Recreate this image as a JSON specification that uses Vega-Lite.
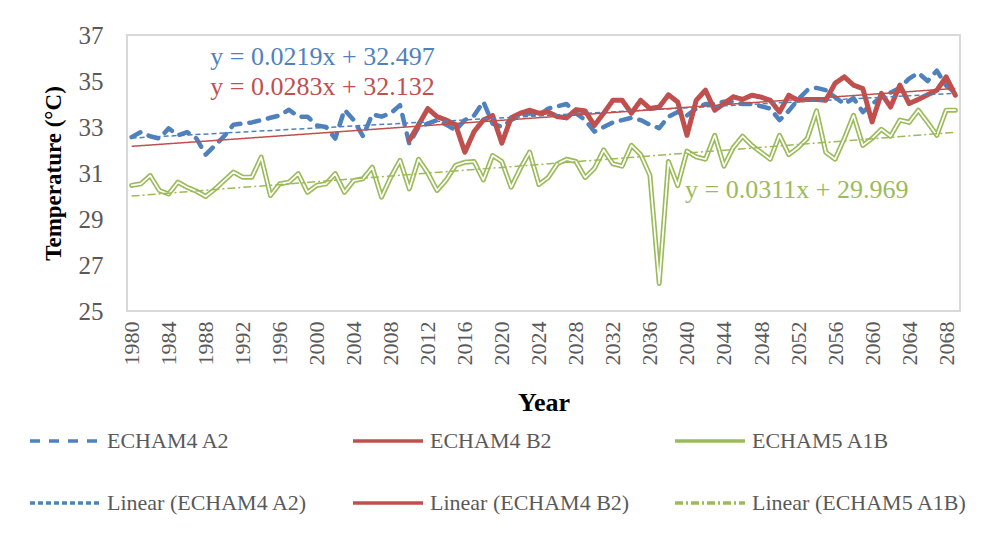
{
  "$schema": "https://vega.github.io/schema/vega-lite/v6.json",
  "width": 833,
  "height": 276,
  "autosize": "none",
  "padding": {"left": 127, "top": 35, "right": 27, "bottom": 241},
  "background": "white",
  "config": {
    "view": {"stroke": "#d9d9d9", "strokeWidth": 2},
    "font": "Liberation Serif"
  },
  "datasets": {
    "temps": [
      {"Year":1980,"ECHAM4 A2":32.56,"ECHAM4 B2":null,"ECHAM5 A1B":30.46},
      {"Year":1981,"ECHAM4 A2":32.78,"ECHAM4 B2":null,"ECHAM5 A1B":30.53},
      {"Year":1982,"ECHAM4 A2":32.6,"ECHAM4 B2":null,"ECHAM5 A1B":30.89},
      {"Year":1983,"ECHAM4 A2":32.5,"ECHAM4 B2":null,"ECHAM5 A1B":30.24},
      {"Year":1984,"ECHAM4 A2":32.94,"ECHAM4 B2":null,"ECHAM5 A1B":30.09},
      {"Year":1985,"ECHAM4 A2":32.64,"ECHAM4 B2":null,"ECHAM5 A1B":30.6},
      {"Year":1986,"ECHAM4 A2":32.78,"ECHAM4 B2":null,"ECHAM5 A1B":30.38},
      {"Year":1987,"ECHAM4 A2":32.5,"ECHAM4 B2":null,"ECHAM5 A1B":30.21},
      {"Year":1988,"ECHAM4 A2":31.8,"ECHAM4 B2":null,"ECHAM5 A1B":29.98},
      {"Year":1989,"ECHAM4 A2":32.2,"ECHAM4 B2":null,"ECHAM5 A1B":30.3},
      {"Year":1990,"ECHAM4 A2":32.6,"ECHAM4 B2":null,"ECHAM5 A1B":30.67},
      {"Year":1991,"ECHAM4 A2":33.1,"ECHAM4 B2":null,"ECHAM5 A1B":31.04},
      {"Year":1992,"ECHAM4 A2":33.15,"ECHAM4 B2":null,"ECHAM5 A1B":30.82},
      {"Year":1993,"ECHAM4 A2":33.2,"ECHAM4 B2":null,"ECHAM5 A1B":30.82},
      {"Year":1994,"ECHAM4 A2":33.3,"ECHAM4 B2":null,"ECHAM5 A1B":31.69},
      {"Year":1995,"ECHAM4 A2":33.4,"ECHAM4 B2":null,"ECHAM5 A1B":30.02},
      {"Year":1996,"ECHAM4 A2":33.5,"ECHAM4 B2":null,"ECHAM5 A1B":30.53},
      {"Year":1997,"ECHAM4 A2":33.75,"ECHAM4 B2":null,"ECHAM5 A1B":30.6},
      {"Year":1998,"ECHAM4 A2":33.45,"ECHAM4 B2":null,"ECHAM5 A1B":30.97},
      {"Year":1999,"ECHAM4 A2":33.45,"ECHAM4 B2":null,"ECHAM5 A1B":30.16},
      {"Year":2000,"ECHAM4 A2":33.07,"ECHAM4 B2":null,"ECHAM5 A1B":30.46},
      {"Year":2001,"ECHAM4 A2":33.0,"ECHAM4 B2":null,"ECHAM5 A1B":30.53},
      {"Year":2002,"ECHAM4 A2":32.5,"ECHAM4 B2":null,"ECHAM5 A1B":30.97},
      {"Year":2003,"ECHAM4 A2":33.75,"ECHAM4 B2":null,"ECHAM5 A1B":30.16},
      {"Year":2004,"ECHAM4 A2":33.3,"ECHAM4 B2":null,"ECHAM5 A1B":30.67},
      {"Year":2005,"ECHAM4 A2":32.6,"ECHAM4 B2":null,"ECHAM5 A1B":30.75},
      {"Year":2006,"ECHAM4 A2":33.55,"ECHAM4 B2":null,"ECHAM5 A1B":31.25},
      {"Year":2007,"ECHAM4 A2":33.45,"ECHAM4 B2":null,"ECHAM5 A1B":29.95},
      {"Year":2008,"ECHAM4 A2":33.6,"ECHAM4 B2":null,"ECHAM5 A1B":30.82},
      {"Year":2009,"ECHAM4 A2":33.95,"ECHAM4 B2":null,"ECHAM5 A1B":31.55},
      {"Year":2010,"ECHAM4 A2":32.27,"ECHAM4 B2":32.42,"ECHAM5 A1B":30.31},
      {"Year":2011,"ECHAM4 A2":33.0,"ECHAM4 B2":33.1,"ECHAM5 A1B":31.6},
      {"Year":2012,"ECHAM4 A2":33.15,"ECHAM4 B2":33.8,"ECHAM5 A1B":31.0},
      {"Year":2013,"ECHAM4 A2":33.3,"ECHAM4 B2":33.45,"ECHAM5 A1B":30.24},
      {"Year":2014,"ECHAM4 A2":33.1,"ECHAM4 B2":33.3,"ECHAM5 A1B":30.7},
      {"Year":2015,"ECHAM4 A2":32.85,"ECHAM4 B2":33.1,"ECHAM5 A1B":31.33},
      {"Year":2016,"ECHAM4 A2":33.3,"ECHAM4 B2":31.9,"ECHAM5 A1B":31.47},
      {"Year":2017,"ECHAM4 A2":33.5,"ECHAM4 B2":32.8,"ECHAM5 A1B":31.5},
      {"Year":2018,"ECHAM4 A2":34.1,"ECHAM4 B2":33.3,"ECHAM5 A1B":30.7},
      {"Year":2019,"ECHAM4 A2":33.15,"ECHAM4 B2":33.5,"ECHAM5 A1B":31.76},
      {"Year":2020,"ECHAM4 A2":33.0,"ECHAM4 B2":32.3,"ECHAM5 A1B":31.5},
      {"Year":2021,"ECHAM4 A2":33.3,"ECHAM4 B2":33.4,"ECHAM5 A1B":30.38},
      {"Year":2022,"ECHAM4 A2":33.5,"ECHAM4 B2":33.6,"ECHAM5 A1B":31.2},
      {"Year":2023,"ECHAM4 A2":33.6,"ECHAM4 B2":33.73,"ECHAM5 A1B":31.91},
      {"Year":2024,"ECHAM4 A2":33.5,"ECHAM4 B2":33.6,"ECHAM5 A1B":30.5},
      {"Year":2025,"ECHAM4 A2":33.8,"ECHAM4 B2":33.65,"ECHAM5 A1B":30.8},
      {"Year":2026,"ECHAM4 A2":33.9,"ECHAM4 B2":33.45,"ECHAM5 A1B":31.4},
      {"Year":2027,"ECHAM4 A2":34.0,"ECHAM4 B2":33.4,"ECHAM5 A1B":31.6},
      {"Year":2028,"ECHAM4 A2":33.6,"ECHAM4 B2":33.75,"ECHAM5 A1B":31.5},
      {"Year":2029,"ECHAM4 A2":33.3,"ECHAM4 B2":33.7,"ECHAM5 A1B":30.8},
      {"Year":2030,"ECHAM4 A2":32.8,"ECHAM4 B2":33.07,"ECHAM5 A1B":31.2},
      {"Year":2031,"ECHAM4 A2":33.0,"ECHAM4 B2":33.6,"ECHAM5 A1B":32.0},
      {"Year":2032,"ECHAM4 A2":33.2,"ECHAM4 B2":34.16,"ECHAM5 A1B":31.4},
      {"Year":2033,"ECHAM4 A2":33.3,"ECHAM4 B2":34.16,"ECHAM5 A1B":31.3},
      {"Year":2034,"ECHAM4 A2":33.4,"ECHAM4 B2":33.6,"ECHAM5 A1B":32.2},
      {"Year":2035,"ECHAM4 A2":33.3,"ECHAM4 B2":34.16,"ECHAM5 A1B":31.8},
      {"Year":2036,"ECHAM4 A2":33.1,"ECHAM4 B2":33.8,"ECHAM5 A1B":30.9},
      {"Year":2037,"ECHAM4 A2":32.95,"ECHAM4 B2":33.87,"ECHAM5 A1B":26.2},
      {"Year":2038,"ECHAM4 A2":33.45,"ECHAM4 B2":34.4,"ECHAM5 A1B":31.5},
      {"Year":2039,"ECHAM4 A2":33.65,"ECHAM4 B2":34.09,"ECHAM5 A1B":30.45},
      {"Year":2040,"ECHAM4 A2":33.5,"ECHAM4 B2":32.64,"ECHAM5 A1B":31.95},
      {"Year":2041,"ECHAM4 A2":33.8,"ECHAM4 B2":34.16,"ECHAM5 A1B":31.7},
      {"Year":2042,"ECHAM4 A2":34.0,"ECHAM4 B2":34.6,"ECHAM5 A1B":31.6},
      {"Year":2043,"ECHAM4 A2":34.0,"ECHAM4 B2":33.73,"ECHAM5 A1B":32.64},
      {"Year":2044,"ECHAM4 A2":34.1,"ECHAM4 B2":34.02,"ECHAM5 A1B":31.3},
      {"Year":2045,"ECHAM4 A2":34.1,"ECHAM4 B2":34.31,"ECHAM5 A1B":32.1},
      {"Year":2046,"ECHAM4 A2":34.0,"ECHAM4 B2":34.2,"ECHAM5 A1B":32.6},
      {"Year":2047,"ECHAM4 A2":34.0,"ECHAM4 B2":34.38,"ECHAM5 A1B":32.2},
      {"Year":2048,"ECHAM4 A2":33.9,"ECHAM4 B2":34.3,"ECHAM5 A1B":31.9},
      {"Year":2049,"ECHAM4 A2":33.8,"ECHAM4 B2":34.16,"ECHAM5 A1B":31.6},
      {"Year":2050,"ECHAM4 A2":33.3,"ECHAM4 B2":33.65,"ECHAM5 A1B":32.64},
      {"Year":2051,"ECHAM4 A2":33.7,"ECHAM4 B2":34.38,"ECHAM5 A1B":31.8},
      {"Year":2052,"ECHAM4 A2":34.2,"ECHAM4 B2":34.16,"ECHAM5 A1B":32.1},
      {"Year":2053,"ECHAM4 A2":34.6,"ECHAM4 B2":34.2,"ECHAM5 A1B":32.5},
      {"Year":2054,"ECHAM4 A2":34.7,"ECHAM4 B2":34.2,"ECHAM5 A1B":33.7},
      {"Year":2055,"ECHAM4 A2":34.6,"ECHAM4 B2":34.16,"ECHAM5 A1B":31.9},
      {"Year":2056,"ECHAM4 A2":34.3,"ECHAM4 B2":34.9,"ECHAM5 A1B":31.6},
      {"Year":2057,"ECHAM4 A2":34.0,"ECHAM4 B2":35.18,"ECHAM5 A1B":32.5},
      {"Year":2058,"ECHAM4 A2":34.25,"ECHAM4 B2":34.82,"ECHAM5 A1B":33.51},
      {"Year":2059,"ECHAM4 A2":33.65,"ECHAM4 B2":34.67,"ECHAM5 A1B":32.2},
      {"Year":2060,"ECHAM4 A2":34.0,"ECHAM4 B2":33.22,"ECHAM5 A1B":32.5},
      {"Year":2061,"ECHAM4 A2":34.3,"ECHAM4 B2":34.46,"ECHAM5 A1B":32.9},
      {"Year":2062,"ECHAM4 A2":34.5,"ECHAM4 B2":33.87,"ECHAM5 A1B":32.6},
      {"Year":2063,"ECHAM4 A2":34.7,"ECHAM4 B2":34.82,"ECHAM5 A1B":33.3},
      {"Year":2064,"ECHAM4 A2":35.1,"ECHAM4 B2":34.02,"ECHAM5 A1B":33.2},
      {"Year":2065,"ECHAM4 A2":35.35,"ECHAM4 B2":34.2,"ECHAM5 A1B":33.73},
      {"Year":2066,"ECHAM4 A2":35.0,"ECHAM4 B2":34.4,"ECHAM5 A1B":33.2},
      {"Year":2067,"ECHAM4 A2":35.45,"ECHAM4 B2":34.6,"ECHAM5 A1B":32.64},
      {"Year":2068,"ECHAM4 A2":34.8,"ECHAM4 B2":35.18,"ECHAM5 A1B":33.73},
      {"Year":2069,"ECHAM4 A2":34.5,"ECHAM4 B2":34.38,"ECHAM5 A1B":33.73}
    ],
    "trend": [
      {"Year":1980,"Series":"Linear (ECHAM4 A2)","T":32.519},
      {"Year":2069,"Series":"Linear (ECHAM4 A2)","T":34.468},
      {"Year":1980,"Series":"Linear (ECHAM4 B2)","T":32.160},
      {"Year":2069,"Series":"Linear (ECHAM4 B2)","T":34.679},
      {"Year":1980,"Series":"Linear (ECHAM5 A1B)","T":30.000},
      {"Year":2069,"Series":"Linear (ECHAM5 A1B)","T":32.768}
    ],
    "equations": [
      {"Year":1988.5,"T":36.04,"Series":"ECHAM4 A2","label":"y = 0.0219x + 32.497"},
      {"Year":1988.5,"T":34.73,"Series":"ECHAM4 B2","label":"y = 0.0283x + 32.132"},
      {"Year":2039.8,"T":30.24,"Series":"ECHAM5 A1B","label":"y = 0.0311x + 29.969"}
    ]
  },
  "encoding": {
    "x": {
      "field": "Year", "type": "quantitative",
      "scale": {"domain": [1979.5, 2069.5], "nice": false, "zero": false},
      "axis": {
        "values": [1980,1984,1988,1992,1996,2000,2004,2008,2012,2016,2020,2024,2028,2032,2036,2040,2044,2048,2052,2056,2060,2064,2068],
        "format": "d", "labelAngle": 270, "labelFlush": false, "labelOverlap": false,
        "ticks": false, "domain": false, "grid": false,
        "labelFont": "Liberation Serif", "labelFontSize": 22, "labelColor": "#595959", "labelPadding": 10,
        "title": "Year", "titleFont": "Liberation Serif", "titleFontSize": 26, "titleFontWeight": "bold", "titleColor": "#000000", "titlePadding": 24
      }
    },
    "y": {
      "field": "T", "type": "quantitative",
      "scale": {"domain": [25, 37], "nice": false, "zero": false},
      "axis": {
        "values": [25,27,29,31,33,35,37],
        "ticks": false, "domain": false, "grid": false,
        "labelFont": "Liberation Serif", "labelFontSize": 25, "labelColor": "#595959", "labelPadding": 24,
        "title": "Temperature (°C)", "titleFont": "Liberation Serif", "titleFontSize": 23, "titleFontWeight": "bold", "titleColor": "#000000", "titlePadding": 13
      }
    }
  },
  "layer": [
    {
      "data": {"name": "temps"},
      "transform": [
        {"fold": ["ECHAM4 A2", "ECHAM4 B2", "ECHAM5 A1B"], "as": ["Series", "T"]},
        {"filter": "datum.Series == 'ECHAM4 A2' && datum.T != null"}
      ],
      "mark": {"type": "line", "strokeWidth": 4.5, "strokeCap": "round", "strokeJoin": "round"},
      "encoding": {
        "color": {"field": "Series", "type": "nominal",
          "scale": {"domain": ["ECHAM4 A2","ECHAM4 B2","ECHAM5 A1B","Linear (ECHAM4 A2)","Linear (ECHAM4 B2)","Linear (ECHAM5 A1B)"],
                    "range": ["#4F81BD","#C0504D","#9BBB59","#4F81BD","#C0504D","#9BBB59"]},
          "legend": {"title": null, "orient": "none", "legendX": -99, "legendY": 369, "direction": "horizontal", "columns": 3,
            "symbolType": "stroke", "symbolSize": 4900, "symbolStrokeWidth": 3.5, "labelFont": "Liberation Serif", "labelFontSize": 22, "labelColor": "#595959",
            "labelOffset": 5, "columnPadding": 38, "rowPadding": 14, "labelLimit": 400}},
        "strokeDash": {"field": "Series", "type": "nominal",
          "scale": {"domain": ["ECHAM4 A2","ECHAM4 B2","ECHAM5 A1B","Linear (ECHAM4 A2)","Linear (ECHAM4 B2)","Linear (ECHAM5 A1B)"],
                    "range": [[10,9],[1,0],[1,0],[5,3],[1,0],[8,3,2,3]]}}
      }
    },
    {
      "data": {"name": "temps"},
      "transform": [
        {"fold": ["ECHAM4 A2", "ECHAM4 B2", "ECHAM5 A1B"], "as": ["Series", "T"]},
        {"filter": "datum.Series == 'ECHAM4 B2' && datum.T != null"}
      ],
      "mark": {"type": "line", "strokeWidth": 5, "strokeCap": "round", "strokeJoin": "round"},
      "encoding": {
        "color": {"field": "Series", "type": "nominal"},
        "strokeDash": {"field": "Series", "type": "nominal"}
      }
    },
    {
      "data": {"name": "temps"},
      "transform": [
        {"fold": ["ECHAM4 A2", "ECHAM4 B2", "ECHAM5 A1B"], "as": ["Series", "T"]},
        {"filter": "datum.Series == 'ECHAM5 A1B' && datum.T != null"}
      ],
      "mark": {"type": "line", "strokeWidth": 5, "strokeCap": "round", "strokeJoin": "round"},
      "encoding": {
        "color": {"field": "Series", "type": "nominal"},
        "strokeDash": {"field": "Series", "type": "nominal"}
      }
    },
    {
      "data": {"name": "temps"},
      "transform": [
        {"fold": ["ECHAM4 A2", "ECHAM4 B2", "ECHAM5 A1B"], "as": ["Series", "T"]},
        {"filter": "datum.Series == 'ECHAM5 A1B' && datum.T != null"}
      ],
      "mark": {"type": "line", "color": "white", "strokeWidth": 1.7, "strokeCap": "round", "strokeJoin": "round"},
      "encoding": {}
    },
    {
      "data": {"name": "trend"},
      "mark": {"type": "line", "strokeWidth": 1.5},
      "encoding": {
        "color": {"field": "Series", "type": "nominal"},
        "strokeDash": {"field": "Series", "type": "nominal"}
      }
    },
    {
      "data": {"name": "equations"},
      "mark": {"type": "text", "align": "left", "baseline": "middle", "font": "Liberation Serif", "fontSize": 26},
      "encoding": {
        "text": {"field": "label"},
        "color": {"field": "Series", "type": "nominal", "legend": null}
      }
    }
  ]
}
